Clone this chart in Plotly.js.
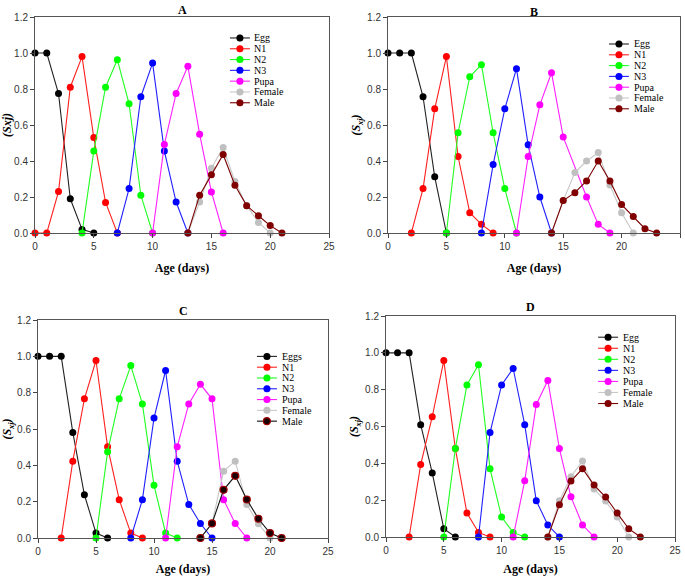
<!DOCTYPE html>
<html>
<head>
<meta charset="utf-8">
<script src="https://cdn.plot.ly/plotly-3.0.1.min.js"></script>
<style>html,body{margin:0;padding:0;background:#fff;}#chart{width:685px;height:576px;}</style>
</head>
<body>
<div id="chart"></div>
<script>
// ---------- Data ----------
var seriesNames = ["Egg", "N1", "N2", "N3", "Pupa", "Female", "Male"];
var seriesNamesC = ["Eggs", "N1", "N2", "N3", "Pupa", "Female", "Male"];
var panelLabels = ["A", "B", "C", "D"];

// Panel A
var A_egg_x = [0,1,2,3,4,5];            var A_egg_y = [1,1,0.775,0.19,0.02,0];
var A_n1_x = [0,1,2,3,4,5,6,7];         var A_n1_y = [0,0,0.23,0.81,0.98,0.53,0.17,0];
var A_n2_x = [4,5,6,7,8,9,10];          var A_n2_y = [0,0.455,0.81,0.963,0.718,0.21,0];
var A_n3_x = [7,8,9,10,11,12,13];       var A_n3_y = [0,0.247,0.757,0.944,0.455,0.172,0];
var A_pupa_x = [10,11,12,13,14,15,16];  var A_pupa_y = [0,0.492,0.775,0.926,0.549,0.228,0];
var A_fem_x = [13,14,15,16,17,18,19,20];    var A_fem_y = [0,0.172,0.36,0.475,0.286,0.152,0.059,0];
var A_male_x = [13,14,15,16,17,18,19,20,21]; var A_male_y = [0,0.21,0.323,0.436,0.265,0.152,0.096,0.041,0];

// Panel B
var B_egg_x = [0,1,2,3,4,5];            var B_egg_y = [1,1,1,0.757,0.312,0];
var B_n1_x = [2,3,4,5,6,7,8,9];         var B_n1_y = [0,0.247,0.69,0.98,0.425,0.113,0.048,0];
var B_n2_x = [5,6,7,8,9,10,11];         var B_n2_y = [0,0.557,0.868,0.935,0.557,0.247,0];
var B_n3_x = [8,9,10,11,12,13,14];      var B_n3_y = [0,0.38,0.69,0.913,0.49,0.2,0];
var B_pupa_x = [11,12,13,14,15,17,18,19]; var B_pupa_y = [0,0.425,0.712,0.89,0.534,0.2,0.048,0];
var B_fem_x = [14,15,16,17,18,19,20,21];  var B_fem_y = [0,0.18,0.336,0.4,0.447,0.267,0.113,0];
var B_male_x = [14,15,16,17,18,19,20,21,22,23]; var B_male_y = [0,0.18,0.224,0.289,0.4,0.289,0.158,0.091,0.024,0];

// Panel C
var C_egg_x = [0,1,2,3,4,5,6];          var C_egg_y = [1,1,1,0.581,0.238,0.027,0];
var C_n1_x = [2,3,4,5,6,7,8,9];         var C_n1_y = [0,0.423,0.766,0.977,0.502,0.211,0.027,0];
var C_n2_x = [5,6,7,8,9,10,11,12];      var C_n2_y = [0,0.475,0.766,0.949,0.738,0.29,0.027,0];
var C_n3_x = [8,9,10,11,12,13,14,15];   var C_n3_y = [0,0.211,0.66,0.922,0.423,0.185,0.08,0];
var C_pupa_x = [11,12,13,14,15,16,17,18]; var C_pupa_y = [0,0.502,0.738,0.846,0.766,0.211,0.08,0];
var C_fem_x = [14,15,16,17,18,19,20];   var C_fem_y = [0,0.08,0.368,0.423,0.185,0.078,0];
var C_male_x = [14,15,16,17,18,19,20,21]; var C_male_y = [0,0.08,0.265,0.342,0.212,0.106,0.027,0];

// Panel D
var D_egg_x = [0,1,2,3,4,5,6];          var D_egg_y = [1,1,1,0.61,0.348,0.045,0];
var D_n1_x = [2,3,4,5,6,7,8,9];         var D_n1_y = [0,0.393,0.653,0.958,0.48,0.13,0.025,0];
var D_n2_x = [5,6,7,8,9,10,11,12];      var D_n2_y = [0,0.48,0.826,0.935,0.37,0.108,0.025,0];
var D_n3_x = [8,9,10,11,12,13,14,15];   var D_n3_y = [0,0.567,0.826,0.915,0.61,0.197,0.065,0];
var D_pupa_x = [11,12,13,14,15,16,17,18]; var D_pupa_y = [0,0.305,0.72,0.85,0.48,0.218,0.065,0];
var D_fem_x = [14,15,16,17,18,19,20,21];  var D_fem_y = [0,0.197,0.327,0.413,0.26,0.195,0.108,0];
var D_male_x = [14,15,16,17,18,19,20,21,22]; var D_male_y = [0,0.175,0.304,0.371,0.282,0.217,0.13,0.045,0];

var xTickVals = [0,5,10,15,20,25];
var yTickVals = [0,0.2,0.4,0.6,0.8,1.0,1.2];

// ---------- Styles ----------
var lineColors   = ["#222222","#ff2020","#20ff20","#2020ff","#ff20ff","#c8c8c8","#7a0000"];
var markerColors = ["#000000","#ff0000","#00ff00","#0000ff","#ff00ff","#c0c0c0","#800000"];

var panels = [
  {lab:"A", names:seriesNames, xs:[A_egg_x,A_n1_x,A_n2_x,A_n3_x,A_pupa_x,A_fem_x,A_male_x],
   ys:[A_egg_y,A_n1_y,A_n2_y,A_n3_y,A_pupa_y,A_fem_y,A_male_y],
   xd:[35/685,329/685], yd:[1-233/576,1-17/576], ytitle:"<i>(Sxj)</i>",
   leg:{x0:0.663,x1:0.731,xt:0.738,y0:0.903,dy:0.05}, ty:1-10/576},
  {lab:"B", names:seriesNames, xs:[B_egg_x,B_n1_x,B_n2_x,B_n3_x,B_pupa_x,B_fem_x,B_male_x],
   ys:[B_egg_y,B_n1_y,B_n2_y,B_n3_y,B_pupa_y,B_fem_y,B_male_y],
   xd:[388/685,680/685], yd:[1-233/576,1-17/576], ytitle:"<i>(S<sub>xj</sub>)</i>",
   leg:{x0:0.757,x1:0.825,xt:0.836,y0:0.875,dy:0.05}, ty:1-12/576},
  {lab:"C", names:seriesNamesC, xs:[C_egg_x,C_n1_x,C_n2_x,C_n3_x,C_pupa_x,C_fem_x,C_male_x],
   ys:[C_egg_y,C_n1_y,C_n2_y,C_n3_y,C_pupa_y,C_fem_y,C_male_y],
   xd:[38/685,328/685], yd:[1-538/576,1-320/576], ytitle:"<i>(S<sub>xj</sub>)</i>",
   leg:{x0:0.755,x1:0.824,xt:0.834,y0:0.833,dy:0.0495}, ty:1-311/576, blackMale:true},
  {lab:"D", names:seriesNames, xs:[D_egg_x,D_n1_x,D_n2_x,D_n3_x,D_pupa_x,D_fem_x,D_male_x],
   ys:[D_egg_y,D_n1_y,D_n2_y,D_n3_y,D_pupa_y,D_fem_y,D_male_y],
   xd:[386/685,675/685], yd:[1-537/576,1-316/576], ytitle:"<i>(S<sub>xj</sub>)</i>",
   leg:{x0:0.734,x1:0.803,xt:0.813,y0:0.904,dy:0.05}, ty:1-307/576}
];

var serif = "Liberation Serif, Times New Roman, serif";
var sans = "Liberation Sans, Arial, sans-serif";

var traces = [];
var layout = {
  width:685, height:576, autosize:false,
  margin:{l:0,r:0,t:0,b:0},
  paper_bgcolor:"#ffffff", plot_bgcolor:"#ffffff",
  showlegend:false,
  annotations:[], shapes:[]
};

panels.forEach(function(p, pi){
  var sfx = pi === 0 ? "" : String(pi+1);
  var xa = "x"+sfx, ya = "y"+sfx;
  // draw order: Egg..Pupa, Female, Male
  for (var s = 0; s < 7; s++) {
    var lc = lineColors[s], mc = markerColors[s], mlc = markerColors[s], mlw = 0;
    if (p.blackMale && s === 6) { lc = "#111111"; mc = "#1a0000"; mlc = "#a00000"; mlw = 1.2; }
    traces.push({
      type:"scatter", mode:"lines+markers", name:p.names[s],
      x:p.xs[s], y:p.ys[s], xaxis:xa, yaxis:ya,
      line:{color:lc, width:1.1},
      marker:{color:mc, size:7, line:{color:mlc, width:mlw}},
      cliponaxis:false, hoverinfo:"x+y+name"
    });
    // custom compact legend
    var ly = p.leg.y0 - s*p.leg.dy;
    layout.shapes.push({type:"line", xref:xa+" domain", yref:ya+" domain",
      x0:p.leg.x0, x1:p.leg.x1, y0:ly, y1:ly, line:{color:lc, width:1.1}});
    layout.shapes.push({type:"circle", xref:xa+" domain", yref:ya+" domain",
      xsizemode:"pixel", ysizemode:"pixel",
      xanchor:(p.leg.x0+p.leg.x1)/2, yanchor:ly, x0:-3.5, x1:3.5, y0:-3.5, y1:3.5,
      fillcolor:mc, line:{color:mlc, width:mlw > 0 ? mlw : 0.1}});
    layout.annotations.push({xref:xa+" domain", yref:ya+" domain", x:p.leg.xt, y:ly,
      text:p.names[s], showarrow:false, xanchor:"left", yanchor:"middle",
      font:{family:serif, size:10, color:"#000"}});
  }
  // panel label
  layout.annotations.push({xref:xa+" domain", yref:"paper", x:0.5, y:p.ty,
    text:"<b>"+p.lab+"</b>", showarrow:false, xanchor:"center", yanchor:"middle",
    font:{family:serif, size:12, color:"#000"}});

  layout["xaxis"+sfx] = {
    domain:p.xd, anchor:ya, range:[0,25], tickvals:xTickVals, ticktext:xTickVals.map(String),
    ticks:"outside", ticklen:4, tickwidth:1, tickcolor:"#444",
    showline:true, mirror:true, linecolor:"#555", linewidth:1,
    showgrid:false, zeroline:false,
    tickfont:{family:sans, size:10, color:"#333"},
    title:{text:"<b>Age (days)</b>", font:{family:serif, size:12, color:"#000"}, standoff:12}
  };
  layout["yaxis"+sfx] = {
    domain:p.yd, anchor:xa, range:[0,1.2], tickvals:yTickVals, ticktext:yTickVals.map(function(v){return v.toFixed(1);}),
    ticks:"outside", ticklen:4, tickwidth:1, tickcolor:"#444",
    showline:true, mirror:true, linecolor:"#555", linewidth:1,
    showgrid:false, zeroline:false,
    tickfont:{family:sans, size:10, color:"#333"},
    title:{text:"<b>"+p.ytitle+"</b>", font:{family:serif, size:12, color:"#000"}, standoff:3}
  };
});

Plotly.newPlot("chart", traces, layout, {displayModeBar:false, staticPlot:true});
</script>
</body>
</html>
